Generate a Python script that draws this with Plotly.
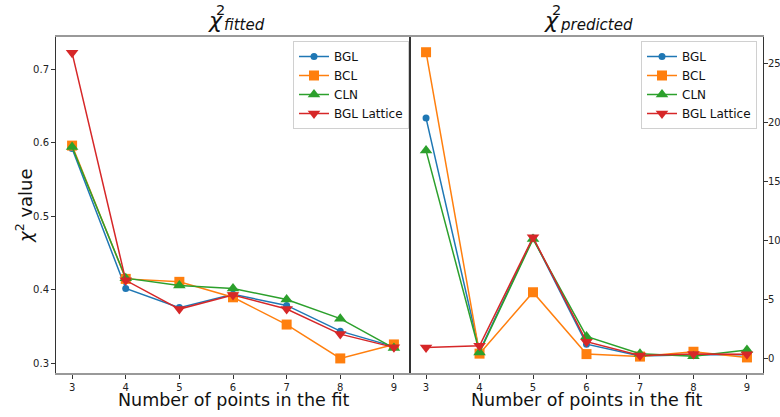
import plotly.graph_objects as go

x_points = [3, 4, 5, 6, 7, 8, 9]

# Left panel: chi^2 fitted
fit_bgl = [0.592, 0.402, 0.376, 0.394, 0.379, 0.344, 0.323]
fit_bcl = [0.596, 0.415, 0.411, 0.390, 0.353, 0.307, 0.326]
fit_cln = [0.594, 0.416, 0.406, 0.402, 0.387, 0.361, 0.321]
fit_lat = [0.722, 0.413, 0.374, 0.393, 0.374, 0.340, 0.322]

# Right panel: chi^2 predicted
pred_bgl = [20.35, 0.6, 10.2, 1.2, 0.2, 0.3, 0.3]
pred_bcl = [25.93, 0.4, 5.6, 0.36, 0.15, 0.56, 0.08]
pred_cln = [17.6, 0.5, 10.1, 1.86, 0.4, 0.17, 0.7]
pred_lat = [0.93, 1.07, 10.25, 1.41, 0.25, 0.36, 0.34]

series_names = ["BGL", "BCL", "CLN", "BGL Lattice"]
colors = ["#1f77b4", "#ff7f0e", "#2ca02c", "#d62728"]
symbols = ["circle", "square", "triangle-up", "triangle-down"]
sizes = [7, 10, 11, 11]

W, H = 780, 417
FONT = "DejaVu Sans"


def px(x):
    return x / W


def py(y):
    return 1 - y / H


fig = go.Figure()
left_data = [fit_bgl, fit_bcl, fit_cln, fit_lat]
right_data = [pred_bgl, pred_bcl, pred_cln, pred_lat]
for i, name in enumerate(series_names):
    fig.add_trace(go.Scatter(
        x=x_points, y=left_data[i], name=name, mode="lines+markers",
        line=dict(color=colors[i], width=1.5),
        marker=dict(symbol=symbols[i], size=sizes[i], color=colors[i], line=dict(width=0)),
        xaxis="x", yaxis="y", legend="legend"))
for i, name in enumerate(series_names):
    fig.add_trace(go.Scatter(
        x=x_points, y=right_data[i], name=name, mode="lines+markers",
        line=dict(color=colors[i], width=1.5),
        marker=dict(symbol=symbols[i], size=sizes[i], color=colors[i], line=dict(width=0)),
        xaxis="x2", yaxis="y2", legend="legend2"))

xd1 = [px(56), px(410)]
xd2 = [px(410), px(763)]
yd = [py(373), py(37)]

tickfont = dict(family=FONT, size=10, color="#222")
common_x = dict(range=[2.7, 9.3], tickvals=x_points, ticks="outside", ticklen=4,
                tickcolor="#333", showline=True, linecolor="#999", linewidth=1.5,
                mirror=True, showgrid=False, zeroline=False, tickfont=tickfont,
                automargin=False)
common_y = dict(ticks="outside", ticklen=4, tickcolor="#333", showline=True,
                linecolor="#333", linewidth=1, mirror=True, showgrid=False,
                zeroline=False, tickfont=tickfont, automargin=False)

legend_common = dict(font=dict(family=FONT, size=12, color="#111"),
                     bgcolor="rgba(255,255,255,0.8)", bordercolor="#d0d0d0",
                     borderwidth=1, xanchor="right", yanchor="top",
                     tracegroupgap=0, itemwidth=30)

fig.update_layout(
    width=W, height=H,
    margin=dict(l=0, r=0, t=0, b=0),
    paper_bgcolor="white", plot_bgcolor="white",
    font=dict(family=FONT),
    xaxis=dict(domain=xd1, anchor="y", **common_x),
    yaxis=dict(domain=yd, anchor="x", range=[0.2872, 0.7435],
               tickvals=[0.3, 0.4, 0.5, 0.6, 0.7], **common_y),
    xaxis2=dict(domain=xd2, anchor="y2", **common_x),
    yaxis2=dict(domain=yd, anchor="x2", side="right", range=[-1.24, 27.22],
                tickvals=[0, 5, 10, 15, 20, 25], ticklabelstandoff=-2, **common_y),
    legend=dict(x=px(409), y=py(41), **legend_common),
    legend2=dict(x=px(757), y=py(41), **legend_common),
)

ann = []
# Titles (chi^2 with subscripts)
for cx, sub, subx in [(215, "fitted", 222), (551, "predicted", 558)]:
    ann.append(dict(text="<i>χ</i>", x=px(cx), y=py(20), xref="paper", yref="paper",
                    xanchor="center", yanchor="middle", showarrow=False,
                    font=dict(family=FONT, size=22, color="#111")))
    ann.append(dict(text="2", x=px(cx + 5), y=py(10), xref="paper", yref="paper",
                    xanchor="center", yanchor="middle", showarrow=False,
                    font=dict(family=FONT, size=14.5, color="#111")))
    ann.append(dict(text="<i>" + sub + "</i>", x=px(subx), y=py(25), xref="paper", yref="paper",
                    xanchor="left", yanchor="middle", showarrow=False,
                    font=dict(family=FONT, size=15, color="#111")))
# Axis titles
for cx in [233, 586.5]:
    ann.append(dict(text="Number of points in the fit", x=px(cx), y=py(400),
                    xref="paper", yref="paper", xanchor="center", yanchor="middle",
                    showarrow=False, font=dict(family=FONT, size=17.5, color="#111")))
ann.append(dict(text="<i>χ</i><sup>2</sup> value", x=px(24), y=py(206), xref="paper",
                yref="paper", xanchor="center", yanchor="middle", textangle=-90,
                showarrow=False, font=dict(family=FONT, size=18, color="#111")))
fig.update_layout(annotations=ann)

fig.write_html("out.html", config={"displayModeBar": False},
               post_script="document.body.style.margin='0';document.body.style.padding='0';")
